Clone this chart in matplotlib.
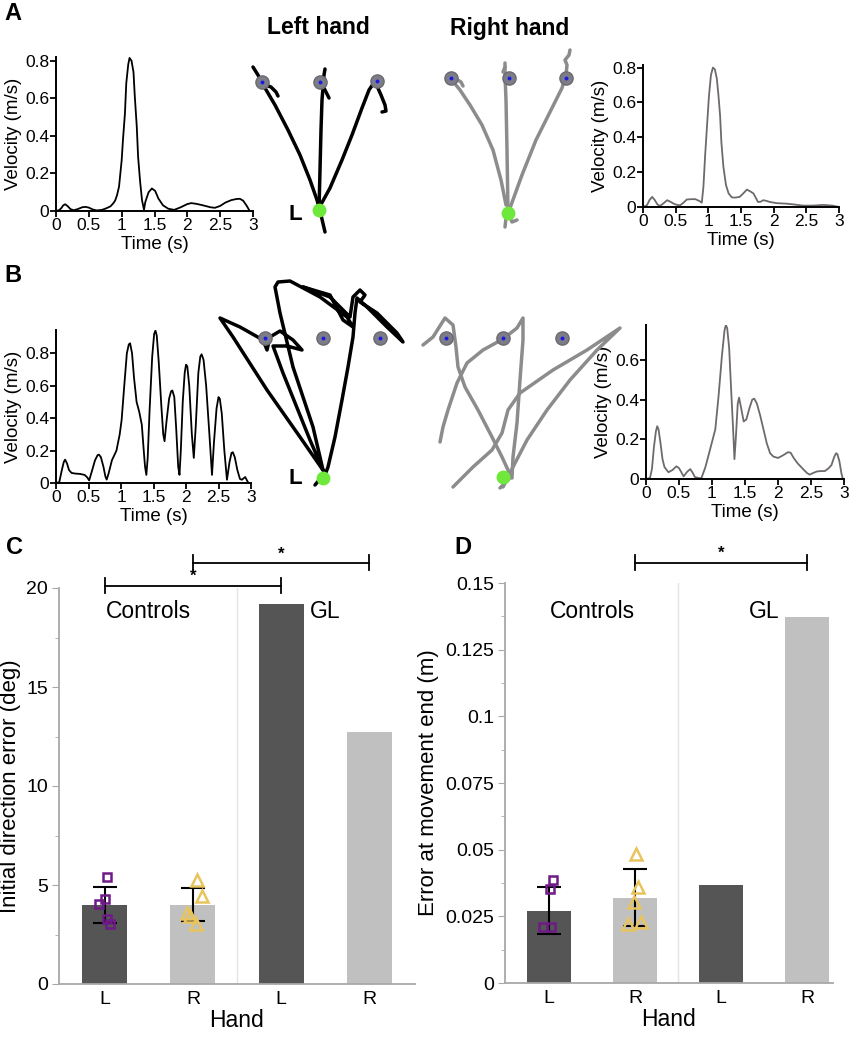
import matplotlib
matplotlib.use("Agg")
import matplotlib.pyplot as plt
from matplotlib.ticker import MultipleLocator

plt.rcParams['font.family'] = ['Liberation Sans', 'DejaVu Sans']

# ---- velocity profiles, (time s, speed m/s) pairs ----
a_left_profile = [(0, 0), (0.05, 0.005), (0.08, 0.015), (0.11, 0.03), (0.14, 0.036), (0.18, 0.025),
                  (0.22, 0.01), (0.27, 0.004), (0.33, 0.01), (0.4, 0.02), (0.45, 0.022), (0.5, 0.018),
                  (0.56, 0.008), (0.62, 0.003), (0.7, 0.006), (0.77, 0.015), (0.83, 0.025), (0.87, 0.04),
                  (0.9, 0.055), (0.93, 0.085), (0.96, 0.13), (0.98, 0.2), (1.0, 0.27), (1.02, 0.38),
                  (1.05, 0.52), (1.07, 0.68), (1.10, 0.78), (1.12, 0.815), (1.15, 0.80), (1.18, 0.74),
                  (1.2, 0.61), (1.23, 0.45), (1.25, 0.29), (1.28, 0.16), (1.31, 0.057), (1.34, 0.007),
                  (1.36, 0.048), (1.41, 0.10), (1.46, 0.12), (1.51, 0.107), (1.56, 0.066), (1.63, 0.03),
                  (1.71, 0.012), (1.8, 0.006), (1.9, 0.02), (2.0, 0.037), (2.06, 0.042), (2.14, 0.038),
                  (2.24, 0.03), (2.35, 0.02), (2.42, 0.017), (2.5, 0.027), (2.58, 0.045), (2.67, 0.058),
                  (2.75, 0.064), (2.8, 0.065), (2.85, 0.055), (2.9, 0.03), (2.95, 0.0)]

a_right_profile = [(0, 0), (0.06, 0.01), (0.1, 0.04), (0.14, 0.058), (0.18, 0.04), (0.22, 0.015),
                   (0.26, 0.006), (0.31, 0.02), (0.37, 0.039), (0.42, 0.03), (0.47, 0.019), (0.52, 0.012),
                   (0.57, 0.01), (0.62, 0.025), (0.67, 0.043), (0.74, 0.045), (0.8, 0.045), (0.86, 0.035),
                   (0.9, 0.025), (0.925, 0.117), (0.95, 0.29), (0.98, 0.466), (1.01, 0.64), (1.04, 0.757),
                   (1.07, 0.8), (1.10, 0.79), (1.13, 0.737), (1.155, 0.64), (1.18, 0.524), (1.2, 0.37),
                   (1.23, 0.233), (1.27, 0.126), (1.31, 0.078), (1.36, 0.055), (1.41, 0.054), (1.48, 0.058),
                   (1.54, 0.08), (1.59, 0.1), (1.64, 0.09), (1.69, 0.078), (1.76, 0.029), (1.8, 0.03),
                   (1.84, 0.039), (1.89, 0.035), (1.94, 0.029), (2.05, 0.022), (2.2, 0.019), (2.3, 0.015),
                   (2.45, 0.008), (2.6, 0.008), (2.76, 0.012), (2.9, 0.008), (3.0, 0.0)]

b_left_profile = [(0, 0), (0.05, 0.005), (0.09, 0.08), (0.12, 0.13), (0.14, 0.144), (0.17, 0.12),
                  (0.2, 0.08), (0.24, 0.062), (0.3, 0.058), (0.37, 0.056), (0.44, 0.05), (0.48, 0.035),
                  (0.51, 0.016), (0.55, 0.07), (0.6, 0.14), (0.64, 0.172), (0.66, 0.175), (0.69, 0.16),
                  (0.73, 0.1), (0.76, 0.04), (0.78, 0.021), (0.81, 0.06), (0.86, 0.14), (0.93, 0.2),
                  (0.98, 0.3), (1.01, 0.39), (1.05, 0.6), (1.09, 0.8), (1.12, 0.855), (1.14, 0.862),
                  (1.17, 0.8), (1.2, 0.65), (1.24, 0.5), (1.28, 0.44), (1.32, 0.36), (1.35, 0.2),
                  (1.37, 0.1), (1.39, 0.05), (1.41, 0.15), (1.44, 0.45), (1.48, 0.78), (1.51, 0.92),
                  (1.53, 0.94), (1.55, 0.91), (1.58, 0.75), (1.62, 0.48), (1.65, 0.3), (1.67, 0.258),
                  (1.7, 0.38), (1.74, 0.52), (1.77, 0.565), (1.79, 0.571), (1.82, 0.53), (1.85, 0.33),
                  (1.88, 0.1), (1.9, 0.05), (1.92, 0.2), (1.95, 0.5), (1.98, 0.68), (2.0, 0.73),
                  (2.02, 0.72), (2.05, 0.6), (2.09, 0.3), (2.12, 0.155), (2.15, 0.35), (2.19, 0.68),
                  (2.22, 0.78), (2.24, 0.794), (2.27, 0.76), (2.31, 0.6), (2.36, 0.3), (2.4, 0.05),
                  (2.43, 0.25), (2.47, 0.46), (2.5, 0.53), (2.52, 0.52), (2.55, 0.43), (2.59, 0.2),
                  (2.63, 0.02), (2.67, 0.13), (2.7, 0.185), (2.72, 0.19), (2.75, 0.16), (2.79, 0.08),
                  (2.83, 0.025), (2.86, 0.02), (2.91, 0.037), (2.96, 0.0)]

b_right_profile = [(0, 0), (0.06, 0.005), (0.09, 0.05), (0.12, 0.16), (0.15, 0.24), (0.17, 0.266),
                   (0.19, 0.25), (0.22, 0.18), (0.25, 0.1), (0.28, 0.06), (0.34, 0.034), (0.4, 0.045),
                   (0.46, 0.064), (0.5, 0.055), (0.57, 0.013), (0.62, 0.035), (0.67, 0.05), (0.71, 0.03),
                   (0.74, 0.01), (0.8, 0.005), (0.84, 0.005), (0.9, 0.06), (0.97, 0.148), (1.05, 0.25),
                   (1.1, 0.42), (1.15, 0.62), (1.19, 0.75), (1.21, 0.776), (1.23, 0.76), (1.26, 0.66),
                   (1.29, 0.45), (1.32, 0.25), (1.34, 0.1), (1.36, 0.2), (1.39, 0.38), (1.41, 0.41),
                   (1.44, 0.36), (1.48, 0.29), (1.52, 0.3), (1.57, 0.36), (1.61, 0.4), (1.64, 0.405),
                   (1.68, 0.38), (1.73, 0.32), (1.78, 0.25), (1.83, 0.18), (1.88, 0.13), (1.93, 0.113),
                   (2.0, 0.106), (2.08, 0.12), (2.15, 0.135), (2.19, 0.133), (2.24, 0.105), (2.3, 0.078),
                   (2.38, 0.05), (2.44, 0.03), (2.48, 0.022), (2.53, 0.03), (2.59, 0.038), (2.65, 0.04),
                   (2.71, 0.04), (2.77, 0.055), (2.81, 0.07), (2.85, 0.11), (2.88, 0.13), (2.9, 0.125),
                   (2.93, 0.09), (2.96, 0.03), (2.98, 0.003)]

# ---- hand paths (offsets from start position, y up) ----
a_left_paths_x = [[-66, -61, -54, -44, -31, -19, -9, -2, 2, 6],
                  [-56, -48, -43, -41],
                  [0, 1, 2, 3, 5, 6],
                  [4, 8, 10],
                  [0, 11, 23, 33, 43, 50, 54, 58, 62, 66, 67, 63]]
a_left_paths_y = [[143, 135, 122, 105, 80, 55, 30, 10, -5, -22],
                  [126, 123, 118, 114],
                  [0, 40, 80, 110, 135, 141],
                  [124, 116, 112],
                  [2, 22, 50, 75, 102, 120, 126, 124, 115, 105, 99, 98]]
a_left_targets_x = [-57, 1, 58]
a_left_targets_y = [128, 128, 129]

a_right_paths_x = [[-2, -7, -15, -26, -38, -48, -56, -52, -47, -45],
                   [0, -1, -2, -3, -3],
                   [-3, -5],
                   [2, 14, 28, 42, 54, 58, 59, 57, 61, 62],
                   [0, 4, 9],
                   [0, -2, -3]]
a_right_paths_y = [[8, 33, 63, 88, 108, 123, 133, 134, 131, 127],
                   [1, 63, 113, 138, 150],
                   [146, 141],
                   [5, 38, 73, 101, 125, 138, 148, 153, 158, 163],
                   [0, -9, -7],
                   [0, -5, -14]]
a_right_targets_x = [-57, 1, 58]
a_right_targets_y = [135, 135, 135]

b_left_paths_x = [[-8, 2, -23, -56, -90, -103, -83, -60, -56, -53, -43, -30, -21, -36, -50, -40, -13, 0,
                   -10, -30, -43, -48, -45, -33, -3, 24, 30, 20, 7, -20, 7, 27, 30, 37, 42, 37, 54, 74, 80,
                   64, 44, 34, 32, 30, 25, 19, 12, 5, 2]]
b_left_paths_y = [[-7, 5, 41, 88, 141, 160, 151, 138, 128, 141, 147, 138, 128, 132, 132, 105, 38, 8,
                   51, 111, 165, 191, 196, 197, 181, 161, 151, 158, 183, 191, 181, 161, 181, 188, 183, 176, 165, 145, 136,
                   151, 171, 180, 165, 141, 111, 78, 41, 11, 3]]
b_left_targets_x = [-58, 0, 57]
b_left_targets_y = [140, 140, 140]

b_right_paths_x = [[-80, -70, -58, -50, -47, -45, -38, -25, -11, -1, 5, 7, -3],
                   [-63, -60, -55, -46, -36, -20, 0, 14, 20, 20, 17, 14, 10, 9],
                   [-50, -30, -11, -1, 5, 17, 50, 84, 117, 94, 67, 44, 24, 10, 0]]
b_right_paths_y = [[132, 140, 159, 152, 130, 110, 90, 67, 40, 20, 7, -1, -11],
                   [35, 50, 67, 94, 114, 127, 138, 149, 159, 137, 97, 54, 20, -1],
                   [-10, 10, 27, 44, 67, 84, 107, 127, 149, 127, 97, 67, 37, 10, -10]]
b_right_targets_x = [-57, 0, 59]
b_right_targets_y = [139, 139, 139]

# ---- bar charts ----
hand_labels = ['L', 'R', 'L', 'R']
ide_means = [3.97, 4.0, 19.2, 12.75]
ide_err_low = [3.08, 3.2]
ide_err_high = [4.92, 4.85]
ide_ctrl_left = [5.39, 4.27, 4.02, 3.28, 3.05]
ide_ctrl_right = [5.25, 4.45, 3.6, 3.45, 3.05]

end_means = [0.0270, 0.0319, 0.0369, 0.1373]
end_err_low = [0.0182, 0.0214]
end_err_high = [0.0361, 0.0426]
end_ctrl_left = [0.0386, 0.0353, 0.0211, 0.0211]
end_ctrl_right = [0.0482, 0.0359, 0.0303, 0.0228, 0.0222]

# horizontal scatter of the individual control points
ide_jit_left = [0.02, 0.0, -0.07, 0.02, 0.06]
ide_jit_right = [0.05, 0.1, -0.07, -0.03, 0.03]
end_jit_left = [0.05, 0.01, -0.07, 0.03]
end_jit_right = [0.01, 0.03, -0.01, 0.07, -0.08]

W, H = 853, 1050
fig = plt.figure(figsize=(W / 100, H / 100), dpi=100)


def px_axes(left, top, right, bottom):
    return fig.add_axes([left / W, 1 - bottom / H, (right - left) / W, (bottom - top) / H])


def fig_text(x, y, s, **kw):
    fig.text(x / W, 1 - y / H, s, ha='center', va='center', **kw)


def velocity_panel(ax, profile, color, ytop, yticks):
    t = [p[0] for p in profile]
    v = [p[1] for p in profile]
    ax.plot(t, v, color=color, lw=1.3, solid_joinstyle='round')
    ax.set_xlim(0, 3)
    ax.set_ylim(0, ytop)
    xt = [0, 0.5, 1, 1.5, 2, 2.5, 3]
    ax.set_xticks(xt)
    ax.set_xticklabels([f'{x:g}' for x in xt])
    ax.set_yticks(yticks)
    ax.set_yticklabels([f'{y:g}' for y in yticks])
    for s in ['top', 'right']:
        ax.spines[s].set_visible(False)
    for s in ['left', 'bottom']:
        ax.spines[s].set_linewidth(1.4)
    ax.tick_params(length=4, width=1.3, labelsize=12.5, pad=1)
    ax.set_xlabel('Time (s)', fontsize=13.5, labelpad=2)
    ax.set_ylabel('Velocity (m/s)', fontsize=13.5, labelpad=2)
    ax.patch.set_alpha(0)


def path_panel(ax, px_list, py_list, tx, ty, color, xlim, ylim):
    for xs, ys in zip(px_list, py_list):
        ax.plot(xs, ys, color=color, lw=2.5, solid_capstyle='round', solid_joinstyle='round')
    ax.plot(tx, ty, 'o', ms=9.5, color='#7d7d88', mec='#6a6a70')
    ax.plot(tx, ty, 'o', ms=2.8, color='#1a1ae6', mew=0)
    ax.plot([0], [0], 'o', ms=10, color='#6ee83a', mew=0)
    ax.set_xlim(*xlim)
    ax.set_ylim(*ylim)
    ax.axis('off')


# Panel A
ax = px_axes(56, 57, 253, 211)
velocity_panel(ax, a_left_profile, 'black', 0.82, [0, 0.2, 0.4, 0.6, 0.8])
ax = px_axes(643, 65, 839, 207)
velocity_panel(ax, a_right_profile, '#6f6a6a', 0.815, [0, 0.2, 0.4, 0.6, 0.8])

ax = px_axes(240, 50, 400, 240)
path_panel(ax, a_left_paths_x, a_left_paths_y, a_left_targets_x, a_left_targets_y,
           'black', (-79, 81), (-30, 160))
ax.text(-24, -5, 'L', fontsize=16, fontweight='bold', ha='center', va='center')
ax = px_axes(430, 40, 600, 240)
path_panel(ax, a_right_paths_x, a_right_paths_y, a_right_targets_x, a_right_targets_y,
           '#8c8c8c', (-78, 92), (-27, 173))

fig_text(318, 28, 'Left hand', fontsize=16.5, fontweight='bold')
fig_text(510, 28, 'Right hand', fontsize=16.5, fontweight='bold')

# Panel B
ax = px_axes(56, 330, 251, 483)
velocity_panel(ax, b_left_profile, 'black', 0.944, [0, 0.2, 0.4, 0.6, 0.8])
ax = px_axes(646, 325, 844, 479)
velocity_panel(ax, b_right_profile, '#6f6a6a', 0.776, [0, 0.2, 0.4, 0.6])

ax = px_axes(205, 270, 420, 500)
path_panel(ax, b_left_paths_x, b_left_paths_y, b_left_targets_x, b_left_targets_y,
           'black', (-118, 97), (-22, 208))
ax.text(-28, 0, 'L', fontsize=16, fontweight='bold', ha='center', va='center')
ax = px_axes(420, 300, 630, 500)
path_panel(ax, b_right_paths_x, b_right_paths_y, b_right_targets_x, b_right_targets_y,
           '#8c8c8c', (-83, 127), (-23, 177))


def bar_panel(ax, means, low, high, pts_l, jit_l, pts_r, jit_r, ylim, major, minor, xlim, ylabel,
              label_y, brackets):
    pos = [1, 2, 3, 4]
    ax.bar(pos, means, width=0.51, color=['#555555', '#c0c0c0', '#555555', '#c0c0c0'], zorder=2)
    ax.axvline(2.5, color='#e4e4e4', lw=1, zorder=1)
    ax.errorbar(pos[:2], means[:2], yerr=[[m - l for m, l in zip(means[:2], low)],
                                          [h - m for m, h in zip(means[:2], high)]],
                fmt='none', ecolor='black', elinewidth=1.5, capsize=8.5, capthick=1.5, zorder=3)
    ax.plot([1 + j for j in jit_l], pts_l, 's', ms=6, mfc='none', mec='#6e1a87', mew=1.8, zorder=4)
    ax.plot([2 + j for j in jit_r], pts_r, '^', ms=8, mfc='none', mec='#e8c45e', mew=1.8, zorder=4)
    ax.set_xlim(*xlim)
    ax.set_ylim(*ylim)
    ax.set_xticks(pos)
    ax.set_xticklabels(hand_labels)
    ax.yaxis.set_major_locator(MultipleLocator(major))
    ax.yaxis.set_minor_locator(MultipleLocator(minor))
    ax.yaxis.set_major_formatter(plt.FuncFormatter(lambda v, p: f'{v:g}'))
    for s in ['top', 'right']:
        ax.spines[s].set_visible(False)
    for s in ['left', 'bottom']:
        ax.spines[s].set_color('#a8a8a8')
        ax.spines[s].set_linewidth(1.3)
    ax.tick_params(axis='y', which='major', length=5, color='#a8a8a8', labelsize=14, pad=3)
    ax.tick_params(axis='y', which='minor', length=3, color='#a8a8a8')
    ax.tick_params(axis='x', length=0, labelsize=14, pad=5)
    ax.set_xlabel('Hand', fontsize=16.5, labelpad=1)
    ax.set_ylabel(ylabel, fontsize=16, labelpad=4)
    ax.text(1.5, label_y, 'Controls', fontsize=16.5, ha='center', va='center')
    ax.text(3.5, label_y, 'GL', fontsize=16.5, ha='center', va='center')
    for x1, x2, yb, h in brackets:
        ax.plot([x1, x2], [yb, yb], color='black', lw=1.3, clip_on=False)
        ax.plot([x1, x1], [yb - h, yb + h], color='black', lw=1.3, clip_on=False)
        ax.plot([x2, x2], [yb - h, yb + h], color='black', lw=1.3, clip_on=False)
        ax.text((x1 + x2) / 2, yb + h * 0.2, '*', fontsize=12, fontweight='bold', ha='center', va='bottom')


ax = px_axes(59, 588, 415, 984)
bar_panel(ax, ide_means, ide_err_low, ide_err_high, ide_ctrl_left, ide_jit_left,
          ide_ctrl_right, ide_jit_right, (0, 20), 5, 2.5, (0.48, 4.52),
          'Initial direction error (deg)', 18.8, [(2, 4, 21.27, 0.38), (1, 3, 20.12, 0.38)])

ax = px_axes(505, 583, 833, 983)
bar_panel(ax, end_means, end_err_low, end_err_high, end_ctrl_left, end_jit_left,
          end_ctrl_right, end_jit_right, (0, 0.15), 0.025, 0.0125, (0.49, 4.3),
          'Error at movement end (m)', 0.1393, [(2, 4, 0.1576, 0.0028)])

for letter, x, y in [('A', 13, 14), ('B', 13, 276), ('C', 15, 547), ('D', 463, 547)]:
    fig_text(x, y, letter, fontsize=17, fontweight='bold')

fig.savefig('out.png', dpi=100)
